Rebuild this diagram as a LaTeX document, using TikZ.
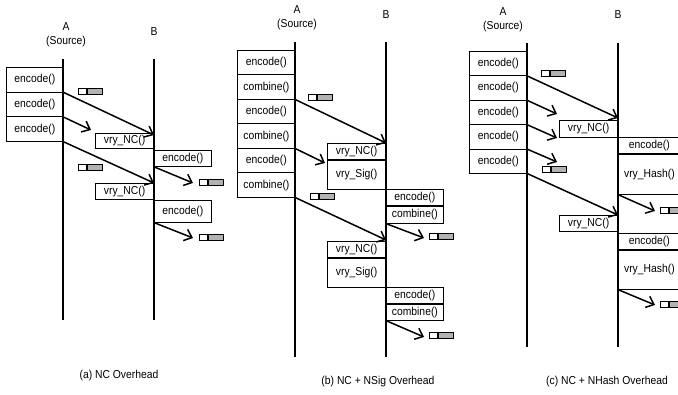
\documentclass[tikz,border=0pt]{standalone}
\usepackage{fontspec}
\setmainfont{Liberation Sans}[FakeStretch=0.9]
\usetikzlibrary{arrows.meta,positioning}

\tikzset{
  fn/.style={draw, line width=0.8pt, inner sep=0pt, anchor=north west,
    minimum width=57pt, minimum height=24.5pt, font=\fontsize{11.5}{13}\selectfont},
  life/.style={line width=1.4pt},
  msg/.style={line width=1.5pt, -{Straight Barb[length=7pt,width=12pt]}},
  pktw/.style={draw, line width=0.6pt, fill=white, inner sep=0pt, anchor=north west,
    minimum width=8pt, minimum height=6pt},
  pktg/.style={draw, line width=0.6pt, fill=gray!60, inner sep=0pt,
    minimum width=15pt, minimum height=6pt},
  lbl/.style={font=\fontsize{11.5}{14}\selectfont, align=center},
}

\begin{document}
\begin{tikzpicture}[x=1pt, y=-1pt]
  \useasboundingbox (0,0) rectangle (678,395);

  % (a) NC only
  \node[lbl] (aA) at (66,35) {A\\(Source)};
  \node[lbl] (aB) at (154,32) {B};
  \coordinate (aAtop) at (63,59);  \coordinate (aAbot) at (63,320);
  \coordinate (aBtop) at (154,59); \coordinate (aBbot) at (154,320);
  \draw[life] (aAtop) -- (aAbot);
  \draw[life] (aBtop) -- (aBbot);

  \foreach \i in {1,...,3}
    \node[fn, minimum height=24.7pt] (aenc\i) at (6,67+24.7*\i-24.7) {encode()};

  \node[fn, anchor=north east, minimum width=58pt, minimum height=15pt] (anc1) at (154,133) {vry\_NC()};
  \node[fn, minimum height=16pt] (aenc4) at (154,150) {encode()};
  \node[fn, anchor=north east, minimum width=58pt, minimum height=16pt] (anc2) at (154,183) {vry\_NC()};
  \node[fn, minimum height=22pt] (aenc5) at (anc2.south east) {encode()};

  \coordinate (aB1) at (154,135);
  \coordinate (aB2) at (154,183);
  \coordinate (aS1) at (91,130);
  \coordinate (aR1) at (193,183);
  \coordinate (aR2) at (193,238);
  \draw[msg] (aenc1.south east) -- (aB1);
  \draw[msg] (aenc2.south east) -- (aS1);
  \draw[msg] (aenc3.south east) -- (aB2);
  \draw[msg] (aenc4.south west) -- (aR1);
  \draw[msg] (aenc5.south west) -- (aR2);

  \foreach[count=\k] \px/\py in {78/88, 78/164, 199/179, 199/234} {
    \node[pktw] (apw\k) at (\px,\py) {};
    \node[pktg, right=0pt of apw\k] (apg\k) {};
  }

  \node[lbl] (acap) at (119,376) {(a) NC Overhead};

  % (b) NC + NSig
  \node[lbl] (bA) at (297,18) {A\\(Source)};
  \node[lbl] (bB) at (386,15) {B};
  \coordinate (bAtop) at (295,42);  \coordinate (bAbot) at (295,357);
  \coordinate (bBtop) at (386,42);  \coordinate (bBbot) at (386,357);
  \draw[life] (bAtop) -- (bAbot);
  \draw[life] (bBtop) -- (bBbot);

  \foreach[count=\i] \fname in {encode,combine,encode,combine,encode,combine}
    \node[fn, minimum width=58pt] (bfn\i) at (237,50+24.5*\i-24.5) {\fname()};

  \node[fn, anchor=north east, minimum width=58pt, minimum height=16pt] (bnc1) at (386,143) {vry\_NC()};
  \node[fn, anchor=north east, minimum width=58pt, minimum height=29pt] (bsig1) at (bnc1.south east) {vry\_Sig()};
  \node[fn, minimum height=16pt] (benc1) at (386,189) {encode()};
  \node[fn, minimum height=17pt] (bcmb1) at (benc1.south west) {combine()};
  \node[fn, anchor=north east, minimum width=58pt, minimum height=16pt] (bnc2) at (386,241) {vry\_NC()};
  \node[fn, anchor=north east, minimum width=58pt, minimum height=29pt] (bsig2) at (bnc2.south east) {vry\_Sig()};
  \node[fn, minimum height=16pt] (benc2) at (386,287) {encode()};
  \node[fn, minimum height=16pt] (bcmb2) at (benc2.south west) {combine()};

  \coordinate (bB1) at (386,143);
  \coordinate (bB2) at (386,240);
  \coordinate (bS1) at (325,163);
  \coordinate (bR1) at (424,238);
  \coordinate (bR2) at (424,337);
  \draw[msg] (bfn2.south east) -- (bB1);
  \draw[msg] (bfn4.south east) -- (bS1);
  \draw[msg] (bfn6.south east) -- (bB2);
  \draw[msg] (bcmb1.south west) -- (bR1);
  \draw[msg] (bcmb2.south west) -- (bR2);

  \foreach[count=\k] \px/\py in {308/94, 310/193, 429/233, 429/332} {
    \node[pktw] (bpw\k) at (\px,\py) {};
    \node[pktg, right=0pt of bpw\k] (bpg\k) {};
  }

  \node[lbl] (bcap) at (378,382) {(b) NC + NSig Overhead};

  % (c) NC + NHash
  \node[lbl] (cA) at (503,19.5) {A\\(Source)};
  \node[lbl] (cB) at (618,15) {B};
  \coordinate (cAtop) at (527,43);  \coordinate (cAbot) at (527,347);
  \coordinate (cBtop) at (618,43);  \coordinate (cBbot) at (618,347);
  \draw[life] (cAtop) -- (cAbot);
  \draw[life] (cBtop) -- (cBbot);

  \foreach \i in {1,...,5}
    \node[fn, minimum width=58pt, minimum height=24.4pt] (cenc\i) at (469,51+24.4*\i-24.4) {encode()};

  \node[fn, anchor=north east, minimum width=58pt, minimum height=17pt] (cnc1) at (618,120) {vry\_NC()};
  \node[fn, minimum width=62pt, minimum height=16pt] (cenc6) at (618,137) {encode()};
  \node[fn, minimum width=62pt, minimum height=40pt] (chash1) at (cenc6.south west) {vry\_Hash()};
  \node[fn, anchor=north east, minimum width=58pt, minimum height=16pt] (cnc2) at (618,215) {vry\_NC()};
  \node[fn, minimum width=62pt, minimum height=16pt] (cenc7) at (618,233) {encode()};
  \node[fn, minimum width=62pt, minimum height=39pt] (chash2) at (cenc7.south west) {vry\_Hash()};

  \coordinate (cB1) at (618,118);
  \coordinate (cB2) at (618,215);
  \coordinate (cS1) at (557,114);
  \coordinate (cS2) at (557,138);
  \coordinate (cS3) at (557,162);
  \coordinate (cR1) at (655,211);
  \coordinate (cR2) at (655,305);
  \draw[msg] (cenc1.south east) -- (cB1);
  \draw[msg] (cenc2.south east) -- (cS1);
  \draw[msg] (cenc3.south east) -- (cS2);
  \draw[msg] (cenc4.south east) -- (cS3);
  \draw[msg] (cenc5.south east) -- (cB2);
  \draw[msg] (chash1.south west) -- (cR1);
  \draw[msg] (chash2.south west) -- (cR2);

  \foreach[count=\k] \px/\py in {541/70, 542/166, 660/207, 660/301} {
    \node[pktw] (cpw\k) at (\px,\py) {};
    \node[pktg, right=0pt of cpw\k] (cpg\k) {};
  }

  \node[lbl] (ccap) at (607,382) {(c) NC + NHash Overhead};
\end{tikzpicture}
\end{document}
